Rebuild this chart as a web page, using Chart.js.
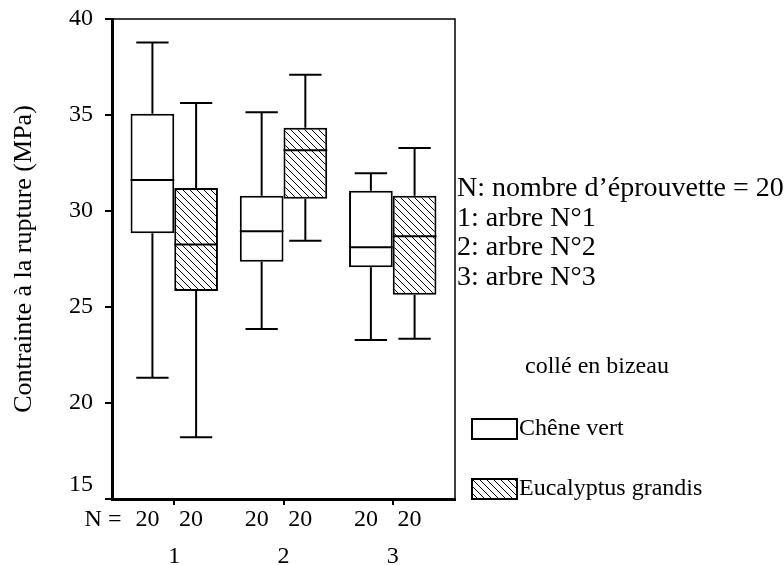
<!DOCTYPE html>
<html><head><meta charset="utf-8">
<script src="https://cdn.jsdelivr.net/npm/chart.js@4/dist/chart.umd.min.js"></script>
<style>html,body{margin:0;padding:0;background:#fff}#wrap{width:784px;height:565px;position:relative}</style>
</head><body><div id="wrap"><canvas id="c"></canvas></div>
<script>
const groups = ['1', '2', '3'];
const groupPos = [1, 2, 3];
const species = ['Chêne vert', 'Eucalyptus grandis'];
const cheneMin = [21.32, 23.85, 23.28];
const cheneQ1 = [28.84, 27.36, 27.07];
const cheneMedian = [31.61, 28.94, 28.11];
const cheneQ3 = [35.07, 30.80, 31.06];
const cheneMax = [38.77, 35.14, 31.96];
const eucMin = [18.21, 28.45, 23.35];
const eucQ1 = [25.83, 30.64, 25.64];
const eucMedian = [28.26, 33.16, 28.68];
const eucQ3 = [31.20, 34.34, 30.80];
const eucMax = [35.63, 37.10, 33.28];
const cheneN = [20, 20, 20];
const eucN = [20, 20, 20];
const yTicks = [15, 20, 25, 30, 35, 40];
const yTitle = 'Contrainte à la rupture (MPa)';
const notes = ['N: nombre d’éprouvette = 20', '1: arbre N°1', '2: arbre N°2', '3: arbre N°3'];
const legendTitle = 'collé en bizeau';

const FONT = 'Liberation Serif';

function makeHatch() {
  const s = 7;
  const c = document.createElement('canvas');
  c.width = s; c.height = s;
  const g = c.getContext('2d');
  g.fillStyle = '#fff'; g.fillRect(0, 0, s, s);
  g.strokeStyle = '#000'; g.lineWidth = 1;
  g.beginPath();
  for (const x0 of [-s, 0, s]) { g.moveTo(x0, 0); g.lineTo(x0 + s, s); }
  g.stroke();
  return document.createElement('canvas').getContext('2d').createPattern(c, 'repeat');
}
const hatch = makeHatch();

const stats = [
  {min: cheneMin, q1: cheneQ1, med: cheneMedian, q3: cheneQ3, max: cheneMax, n: cheneN},
  {min: eucMin, q1: eucQ1, med: eucMedian, q3: eucQ3, max: eucMax, n: eucN}
];

const boxPlugin = {
  id: 'boxplot',
  afterDatasetsDraw(chart) {
    const ctx = chart.ctx, y = chart.scales.y, ca = chart.chartArea;
    ctx.save();
    ctx.strokeStyle = '#000';
    ctx.lineWidth = 2;
    stats.forEach((st, di) => {
      const meta = chart.getDatasetMeta(di);
      meta.data.forEach((el, i) => {
        const x = el.x, w = el.width;
        const yMin = y.getPixelForValue(st.min[i]);
        const yQ1 = y.getPixelForValue(st.q1[i]);
        const yMed = y.getPixelForValue(st.med[i]);
        const yQ3 = y.getPixelForValue(st.q3[i]);
        const yMax = y.getPixelForValue(st.max[i]);
        const cap = w * 0.37;
        ctx.beginPath();
        ctx.moveTo(x, yQ3); ctx.lineTo(x, yMax);
        ctx.moveTo(x - cap, yMax); ctx.lineTo(x + cap, yMax);
        ctx.moveTo(x, yQ1); ctx.lineTo(x, yMin);
        ctx.moveTo(x - cap, yMin); ctx.lineTo(x + cap, yMin);
        ctx.moveTo(x - w / 2, yMed); ctx.lineTo(x + w / 2, yMed);
        ctx.stroke();
        ctx.fillStyle = '#000';
        ctx.font = '24px "' + FONT + '"';
        ctx.textAlign = 'center';
        ctx.textBaseline = 'middle';
        ctx.fillText(String(st.n[i]), x - 5, 520);
      });
    });
    ctx.textAlign = 'center';
    ctx.fillText('N =', 103, 520);
    ctx.lineWidth = 1.5;
    ctx.beginPath();
    ctx.moveTo(ca.left - 7, ca.top); ctx.lineTo(ca.right, ca.top); ctx.lineTo(ca.right, ca.bottom);
    ctx.stroke();
    ctx.textAlign = 'left';
    ctx.font = '28px "' + FONT + '"';
    notes.forEach((t, i) => ctx.fillText(t, 457, 189 + i * 29.5));
    ctx.font = '24px "' + FONT + '"';
    ctx.fillText(legendTitle, 525, 367);
    const items = [{fill: '#fff', y: 419}, {fill: hatch, y: 479}];
    items.forEach((it, i) => {
      ctx.fillStyle = it.fill;
      ctx.fillRect(472, it.y, 45, 20);
      ctx.lineWidth = 2;
      ctx.strokeRect(472, it.y, 45, 20);
      ctx.fillStyle = '#000';
      ctx.fillText(species[i], 519, it.y + 10);
    });
    ctx.restore();
  }
};

new Chart(document.getElementById('c'), {
  type: 'bar',
  data: {
    datasets: [
      {label: species[0], data: groupPos.map((x, i) => ({x, y: [cheneQ1[i], cheneQ3[i]]})),
       backgroundColor: '#fff', borderColor: '#000', borderWidth: 2, borderSkipped: false,
       categoryPercentage: 0.8, barPercentage: 1},
      {label: species[1], data: groupPos.map((x, i) => ({x, y: [eucQ1[i], eucQ3[i]]})),
       backgroundColor: hatch, borderColor: '#000', borderWidth: 2, borderSkipped: false,
       categoryPercentage: 0.8, barPercentage: 1}
    ]
  },
  options: {
    responsive: true, maintainAspectRatio: false, animation: false,
    devicePixelRatio: 1,
    layout: {padding: {top: 19, right: 329, left: 0, bottom: 0}},
    plugins: {legend: {display: false}, tooltip: {enabled: false}},
    scales: {
      x: {
        type: 'linear', min: 0.43, max: 3.57, offset: false,
        afterBuildTicks: s => { s.ticks = groupPos.map(v => ({value: v})); },
        afterFit: s => { s.height = 66; s.paddingLeft = 0; s.paddingRight = 0; },
        ticks: {callback: v => groups[groupPos.indexOf(v)], color: '#000',
                font: {family: FONT, size: 24}, padding: 37, maxRotation: 0, autoSkip: false},
        grid: {display: true, offset: false, drawOnChartArea: false, drawTicks: true, tickLength: 6, color: '#000', lineWidth: 2},
        border: {display: true, color: '#000', width: 3}
      },
      y: {
        min: 15, max: 40,
        afterBuildTicks: s => { s.ticks = yTicks.map(v => ({value: v})); },
        afterFit: s => { s.width = 112; s.paddingTop = 0; s.paddingBottom = 0; },
        ticks: {color: '#000', font: {family: FONT, size: 24}, padding: 12,
                callback: v => v === yTicks[0] ? [String(v), ''] : String(v)},
        grid: {display: true, drawOnChartArea: false, drawTicks: true, tickLength: 7, color: '#000', lineWidth: 2},
        border: {display: true, color: '#000', width: 3},
        title: {display: true, text: yTitle, color: '#000', font: {family: FONT, size: 26, lineHeight: 1.2}, padding: {top: 9, bottom: 0}}
      }
    }
  },
  plugins: [boxPlugin]
});
</script></body></html>
